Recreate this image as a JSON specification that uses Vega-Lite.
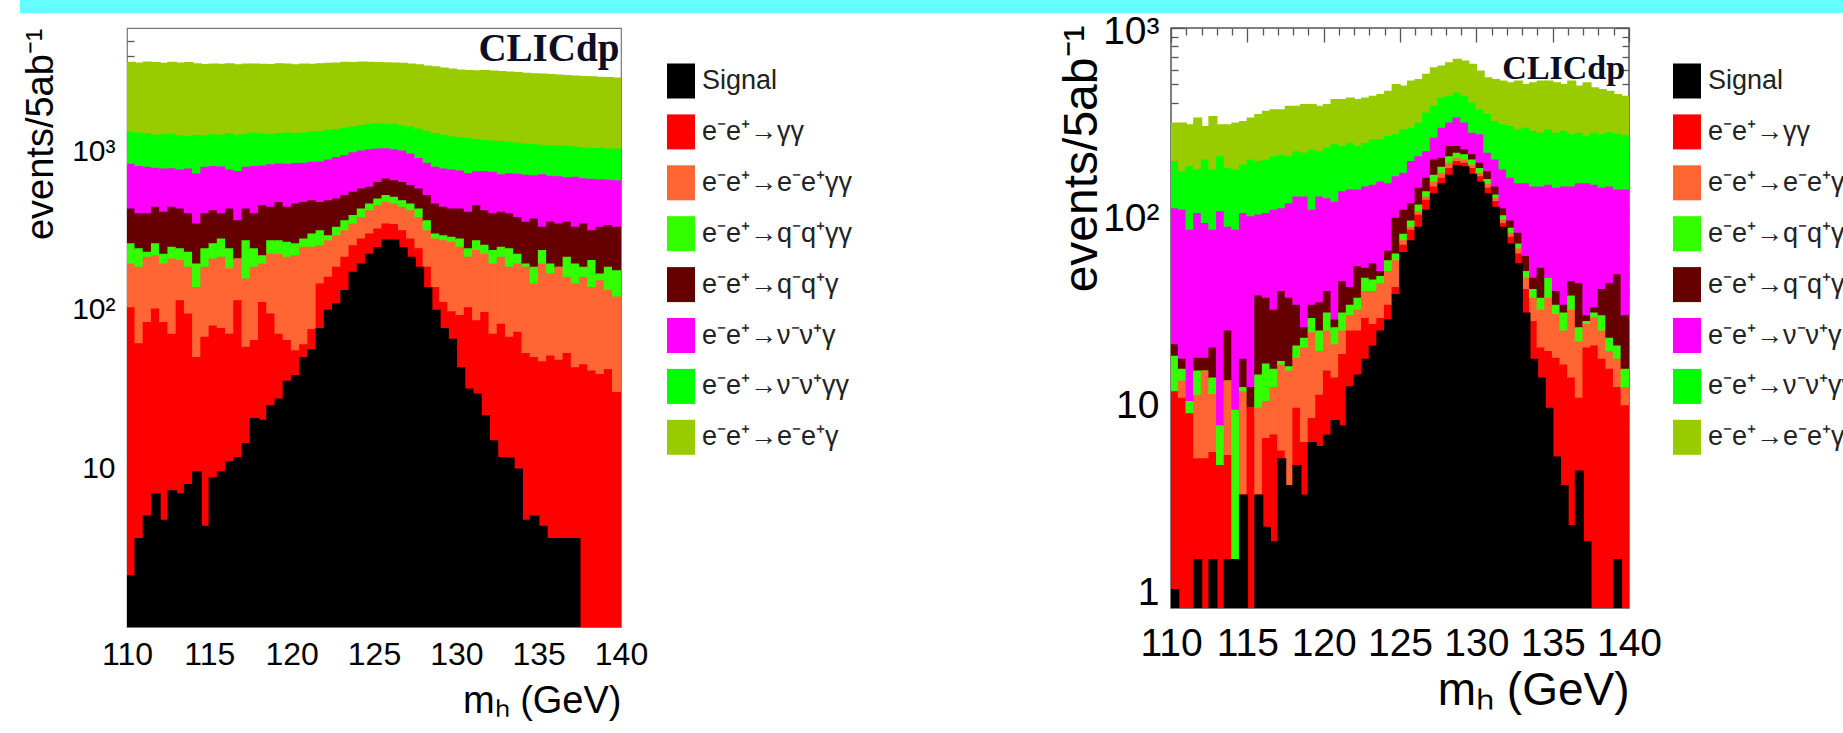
{
  "$schema": "https://vega.github.io/schema/vega-lite/v6.json",
  "background": "white",
  "padding": {"left": 20, "top": 0, "right": 0, "bottom": 0},
  "config": {
    "font": "Liberation Sans",
    "view": {"stroke": null},
    "axis": {"labelColor": "#000", "titleColor": "#000", "titleFontWeight": "normal", "domain": false, "ticks": false, "grid": false, "labelFlush": false, "labelOverlap": false, "labelFont": "Liberation Sans", "titleFont": "Liberation Sans", "tickColor": "#555", "tickWidth": 1.3}
  },
  "datasets": {
    "left": [
      {"m":110,"m2":110.5,"a_signal":2.1,"b_gg":103,"c_eegg":194,"d_qqgg":260,"e_qqg":432,"f_nng":825,"g_nngg":1310,"h_eeg":3630},
      {"m":110.5,"m2":111,"a_signal":3.6,"b_gg":61,"c_eegg":185,"d_qqgg":242,"e_qqg":402,"f_nng":800,"g_nngg":1300,"h_eeg":3600},
      {"m":111,"m2":111.5,"a_signal":5.0,"b_gg":83,"c_eegg":214,"d_qqgg":230,"e_qqg":402,"f_nng":790,"g_nngg":1290,"h_eeg":3650},
      {"m":111.5,"m2":112,"a_signal":6.9,"b_gg":101,"c_eegg":219,"d_qqgg":260,"e_qqg":442,"f_nng":780,"g_nngg":1260,"h_eeg":3620},
      {"m":112,"m2":112.5,"a_signal":4.7,"b_gg":83,"c_eegg":194,"d_qqgg":224,"e_qqg":411,"f_nng":770,"g_nngg":1270,"h_eeg":3580},
      {"m":112.5,"m2":113,"a_signal":7.2,"b_gg":70,"c_eegg":209,"d_qqgg":248,"e_qqg":442,"f_nng":775,"g_nngg":1280,"h_eeg":3640},
      {"m":113,"m2":113.5,"a_signal":6.9,"b_gg":114,"c_eegg":204,"d_qqgg":242,"e_qqg":432,"f_nng":760,"g_nngg":1250,"h_eeg":3600},
      {"m":113.5,"m2":114,"a_signal":7.9,"b_gg":94,"c_eegg":185,"d_qqgg":230,"e_qqg":402,"f_nng":770,"g_nngg":1240,"h_eeg":3620},
      {"m":114,"m2":114.5,"a_signal":9.5,"b_gg":50,"c_eegg":138,"d_qqgg":194,"e_qqg":347,"f_nng":716,"g_nngg":1260,"h_eeg":3560},
      {"m":114.5,"m2":115,"a_signal":4.3,"b_gg":67,"c_eegg":185,"d_qqgg":242,"e_qqg":402,"f_nng":790,"g_nngg":1250,"h_eeg":3520},
      {"m":115,"m2":115.5,"a_signal":8.7,"b_gg":79,"c_eegg":209,"d_qqgg":260,"e_qqg":421,"f_nng":800,"g_nngg":1270,"h_eeg":3550},
      {"m":115.5,"m2":116,"a_signal":9.5,"b_gg":76,"c_eegg":214,"d_qqgg":279,"e_qqg":402,"f_nng":795,"g_nngg":1260,"h_eeg":3530},
      {"m":116,"m2":116.5,"a_signal":11,"b_gg":70,"c_eegg":181,"d_qqgg":242,"e_qqg":432,"f_nng":760,"g_nngg":1290,"h_eeg":3560},
      {"m":116.5,"m2":117,"a_signal":11.7,"b_gg":114,"c_eegg":209,"d_qqgg":209,"e_qqg":364,"f_nng":745,"g_nngg":1260,"h_eeg":3510},
      {"m":117,"m2":117.5,"a_signal":14.3,"b_gg":58,"c_eegg":156,"d_qqgg":272,"e_qqg":432,"f_nng":790,"g_nngg":1280,"h_eeg":3540},
      {"m":117.5,"m2":118,"a_signal":20.6,"b_gg":64,"c_eegg":185,"d_qqgg":242,"e_qqg":402,"f_nng":800,"g_nngg":1300,"h_eeg":3550},
      {"m":118,"m2":118.5,"a_signal":20.1,"b_gg":111,"c_eegg":194,"d_qqgg":219,"e_qqg":453,"f_nng":805,"g_nngg":1280,"h_eeg":3530},
      {"m":118.5,"m2":119,"a_signal":24.8,"b_gg":94,"c_eegg":224,"d_qqgg":272,"e_qqg":442,"f_nng":820,"g_nngg":1270,"h_eeg":3520},
      {"m":119,"m2":119.5,"a_signal":27.3,"b_gg":70,"c_eegg":224,"d_qqgg":272,"e_qqg":475,"f_nng":830,"g_nngg":1290,"h_eeg":3560},
      {"m":119.5,"m2":120,"a_signal":35.3,"b_gg":64,"c_eegg":214,"d_qqgg":266,"e_qqg":442,"f_nng":825,"g_nngg":1300,"h_eeg":3540},
      {"m":120,"m2":120.5,"a_signal":38.4,"b_gg":55,"c_eegg":219,"d_qqgg":260,"e_qqg":464,"f_nng":835,"g_nngg":1290,"h_eeg":3510},
      {"m":120.5,"m2":121,"a_signal":50,"b_gg":60,"c_eegg":248,"d_qqgg":279,"e_qqg":475,"f_nng":840,"g_nngg":1300,"h_eeg":3550},
      {"m":121,"m2":121.5,"a_signal":56,"b_gg":75,"c_eegg":248,"d_qqgg":300,"e_qqg":487,"f_nng":850,"g_nngg":1320,"h_eeg":3530},
      {"m":121.5,"m2":122,"a_signal":76,"b_gg":145,"c_eegg":253,"d_qqgg":315,"e_qqg":475,"f_nng":855,"g_nngg":1330,"h_eeg":3560},
      {"m":122,"m2":122.5,"a_signal":99,"b_gg":160,"c_eegg":272,"d_qqgg":293,"e_qqg":487,"f_nng":880,"g_nngg":1350,"h_eeg":3580},
      {"m":122.5,"m2":123,"a_signal":109,"b_gg":185,"c_eegg":293,"d_qqgg":331,"e_qqg":499,"f_nng":910,"g_nngg":1370,"h_eeg":3600},
      {"m":123,"m2":123.5,"a_signal":132,"b_gg":214,"c_eegg":315,"d_qqgg":364,"e_qqg":524,"f_nng":940,"g_nngg":1400,"h_eeg":3630},
      {"m":123.5,"m2":124,"a_signal":172,"b_gg":253,"c_eegg":347,"d_qqgg":392,"e_qqg":550,"f_nng":975,"g_nngg":1420,"h_eeg":3620},
      {"m":124,"m2":124.5,"a_signal":194,"b_gg":279,"c_eegg":382,"d_qqgg":432,"e_qqg":577,"f_nng":1000,"g_nngg":1450,"h_eeg":3650},
      {"m":124.5,"m2":125,"a_signal":224,"b_gg":300,"c_eegg":421,"d_qqgg":464,"e_qqg":591,"f_nng":1020,"g_nngg":1470,"h_eeg":3640},
      {"m":125,"m2":125.5,"a_signal":247,"b_gg":323,"c_eegg":453,"d_qqgg":499,"e_qqg":635,"f_nng":1030,"g_nngg":1490,"h_eeg":3620},
      {"m":125.5,"m2":126,"a_signal":275,"b_gg":347,"c_eegg":475,"d_qqgg":524,"e_qqg":668,"f_nng":1035,"g_nngg":1480,"h_eeg":3610},
      {"m":126,"m2":126.5,"a_signal":275,"b_gg":345,"c_eegg":464,"d_qqgg":512,"e_qqg":651,"f_nng":1020,"g_nngg":1470,"h_eeg":3600},
      {"m":126.5,"m2":127,"a_signal":247,"b_gg":315,"c_eegg":442,"d_qqgg":487,"e_qqg":635,"f_nng":1000,"g_nngg":1440,"h_eeg":3580},
      {"m":127,"m2":127.5,"a_signal":214,"b_gg":279,"c_eegg":421,"d_qqgg":464,"e_qqg":606,"f_nng":960,"g_nngg":1420,"h_eeg":3540},
      {"m":127.5,"m2":128,"a_signal":185,"b_gg":242,"c_eegg":382,"d_qqgg":432,"e_qqg":577,"f_nng":900,"g_nngg":1380,"h_eeg":3500},
      {"m":128,"m2":128.5,"a_signal":138,"b_gg":185,"c_eegg":315,"d_qqgg":364,"e_qqg":524,"f_nng":840,"g_nngg":1330,"h_eeg":3440},
      {"m":128.5,"m2":129,"a_signal":99,"b_gg":138,"c_eegg":279,"d_qqgg":300,"e_qqg":464,"f_nng":790,"g_nngg":1290,"h_eeg":3400},
      {"m":129,"m2":129.5,"a_signal":76,"b_gg":111,"c_eegg":272,"d_qqgg":293,"e_qqg":442,"f_nng":770,"g_nngg":1260,"h_eeg":3350},
      {"m":129.5,"m2":130,"a_signal":65,"b_gg":97,"c_eegg":266,"d_qqgg":286,"e_qqg":432,"f_nng":760,"g_nngg":1230,"h_eeg":3300},
      {"m":130,"m2":130.5,"a_signal":43,"b_gg":92,"c_eegg":248,"d_qqgg":279,"e_qqg":432,"f_nng":750,"g_nngg":1220,"h_eeg":3250},
      {"m":130.5,"m2":131,"a_signal":31.6,"b_gg":103,"c_eegg":214,"d_qqgg":242,"e_qqg":411,"f_nng":720,"g_nngg":1200,"h_eeg":3230},
      {"m":131,"m2":131.5,"a_signal":29.4,"b_gg":85,"c_eegg":236,"d_qqgg":272,"e_qqg":453,"f_nng":740,"g_nngg":1180,"h_eeg":3210},
      {"m":131.5,"m2":132,"a_signal":21.4,"b_gg":96,"c_eegg":224,"d_qqgg":255,"e_qqg":421,"f_nng":745,"g_nngg":1170,"h_eeg":3220},
      {"m":132,"m2":132.5,"a_signal":14.9,"b_gg":70,"c_eegg":194,"d_qqgg":236,"e_qqg":402,"f_nng":735,"g_nngg":1160,"h_eeg":3200},
      {"m":132.5,"m2":133,"a_signal":11.7,"b_gg":81,"c_eegg":214,"d_qqgg":248,"e_qqg":411,"f_nng":710,"g_nngg":1150,"h_eeg":3180},
      {"m":133,"m2":133.5,"a_signal":11.6,"b_gg":67,"c_eegg":185,"d_qqgg":242,"e_qqg":402,"f_nng":720,"g_nngg":1140,"h_eeg":3150},
      {"m":133.5,"m2":134,"a_signal":9.9,"b_gg":72,"c_eegg":194,"d_qqgg":224,"e_qqg":382,"f_nng":715,"g_nngg":1120,"h_eeg":3130},
      {"m":134,"m2":134.5,"a_signal":4.7,"b_gg":53,"c_eegg":185,"d_qqgg":194,"e_qqg":356,"f_nng":705,"g_nngg":1110,"h_eeg":3100},
      {"m":134.5,"m2":135,"a_signal":5.0,"b_gg":50,"c_eegg":145,"d_qqgg":185,"e_qqg":373,"f_nng":700,"g_nngg":1100,"h_eeg":3080},
      {"m":135,"m2":135.5,"a_signal":4.3,"b_gg":47,"c_eegg":194,"d_qqgg":236,"e_qqg":331,"f_nng":710,"g_nngg":1090,"h_eeg":3060},
      {"m":135.5,"m2":136,"a_signal":3.6,"b_gg":51,"c_eegg":168,"d_qqgg":194,"e_qqg":356,"f_nng":695,"g_nngg":1080,"h_eeg":3040},
      {"m":136,"m2":136.5,"a_signal":3.6,"b_gg":48,"c_eegg":185,"d_qqgg":185,"e_qqg":347,"f_nng":690,"g_nngg":1080,"h_eeg":3020},
      {"m":136.5,"m2":137,"a_signal":3.6,"b_gg":53,"c_eegg":160,"d_qqgg":214,"e_qqg":356,"f_nng":680,"g_nngg":1070,"h_eeg":3000},
      {"m":137,"m2":137.5,"a_signal":3.6,"b_gg":43,"c_eegg":145,"d_qqgg":194,"e_qqg":331,"f_nng":685,"g_nngg":1060,"h_eeg":2980},
      {"m":137.5,"m2":138,"a_signal":0,"b_gg":45,"c_eegg":160,"d_qqgg":185,"e_qqg":347,"f_nng":670,"g_nngg":1050,"h_eeg":2960},
      {"m":138,"m2":138.5,"a_signal":0,"b_gg":41,"c_eegg":138,"d_qqgg":204,"e_qqg":315,"f_nng":665,"g_nngg":1040,"h_eeg":2950},
      {"m":138.5,"m2":139,"a_signal":0,"b_gg":39,"c_eegg":152,"d_qqgg":168,"e_qqg":331,"f_nng":660,"g_nngg":1040,"h_eeg":2920},
      {"m":139,"m2":139.5,"a_signal":0,"b_gg":42,"c_eegg":132,"d_qqgg":185,"e_qqg":339,"f_nng":655,"g_nngg":1030,"h_eeg":2910},
      {"m":139.5,"m2":140,"a_signal":0,"b_gg":30,"c_eegg":120,"d_qqgg":176,"e_qqg":331,"f_nng":650,"g_nngg":1030,"h_eeg":2890}
    ],
    "right": [
      {"m":110,"m2":110.5,"a_signal":1.0,"b_gg":11.4,"c_eegg":11.4,"d_qqgg":17.6,"e_qqg":20.3,"f_nng":108,"g_nngg":193,"h_eeg":310},
      {"m":110.5,"m2":111,"a_signal":0,"b_gg":10.5,"c_eegg":13,"d_qqgg":15,"e_qqg":17,"f_nng":106,"g_nngg":170,"h_eeg":310},
      {"m":111,"m2":111.5,"a_signal":0,"b_gg":8.7,"c_eegg":8.7,"d_qqgg":10.1,"e_qqg":10.1,"f_nng":83,"g_nngg":181,"h_eeg":303},
      {"m":111.5,"m2":112,"a_signal":1.45,"b_gg":5.0,"c_eegg":10.9,"d_qqgg":14.7,"e_qqg":17.2,"f_nng":102,"g_nngg":174,"h_eeg":330},
      {"m":112,"m2":112.5,"a_signal":0,"b_gg":5.0,"c_eegg":14.7,"d_qqgg":14.7,"e_qqg":17.2,"f_nng":90,"g_nngg":197,"h_eeg":297},
      {"m":112.5,"m2":113,"a_signal":1.45,"b_gg":5.4,"c_eegg":11,"d_qqgg":13.5,"e_qqg":19.5,"f_nng":83,"g_nngg":174,"h_eeg":336},
      {"m":113,"m2":113.5,"a_signal":0,"b_gg":4.6,"c_eegg":4.6,"d_qqgg":7.5,"e_qqg":7.5,"f_nng":104,"g_nngg":205,"h_eeg":303},
      {"m":113.5,"m2":114,"a_signal":1.45,"b_gg":5.2,"c_eegg":13,"d_qqgg":13,"e_qqg":24,"f_nng":86,"g_nngg":177,"h_eeg":303},
      {"m":114,"m2":114.5,"a_signal":1.45,"b_gg":1.45,"c_eegg":1.45,"d_qqgg":9.1,"e_qqg":9.1,"f_nng":83,"g_nngg":174,"h_eeg":310},
      {"m":114.5,"m2":115,"a_signal":3.2,"b_gg":3.2,"c_eegg":11.4,"d_qqgg":12,"e_qqg":17,"f_nng":102,"g_nngg":185,"h_eeg":316},
      {"m":115,"m2":115.5,"a_signal":0,"b_gg":9.3,"c_eegg":9.3,"d_qqgg":9.3,"e_qqg":12,"f_nng":98,"g_nngg":197,"h_eeg":330},
      {"m":115.5,"m2":116,"a_signal":3.2,"b_gg":3.2,"c_eegg":9.3,"d_qqgg":14,"e_qqg":37,"f_nng":100,"g_nngg":193,"h_eeg":344},
      {"m":116,"m2":116.5,"a_signal":2.15,"b_gg":6.4,"c_eegg":10.1,"d_qqgg":16,"e_qqg":36,"f_nng":102,"g_nngg":197,"h_eeg":358},
      {"m":116.5,"m2":117,"a_signal":1.8,"b_gg":6.7,"c_eegg":12,"d_qqgg":15,"e_qqg":31,"f_nng":106,"g_nngg":205,"h_eeg":365},
      {"m":117,"m2":117.5,"a_signal":5.0,"b_gg":5.5,"c_eegg":15.8,"d_qqgg":16.5,"e_qqg":39,"f_nng":108,"g_nngg":209,"h_eeg":365},
      {"m":117.5,"m2":118,"a_signal":3.6,"b_gg":3.6,"c_eegg":14.7,"d_qqgg":15.5,"e_qqg":36,"f_nng":115,"g_nngg":205,"h_eeg":381},
      {"m":118,"m2":118.5,"a_signal":4.6,"b_gg":9.3,"c_eegg":17.2,"d_qqgg":20,"e_qqg":33,"f_nng":125,"g_nngg":218,"h_eeg":381},
      {"m":118.5,"m2":119,"a_signal":3.2,"b_gg":6.1,"c_eegg":19.5,"d_qqgg":22,"e_qqg":25,"f_nng":125,"g_nngg":214,"h_eeg":389},
      {"m":119,"m2":119.5,"a_signal":6.1,"b_gg":8.2,"c_eegg":23.5,"d_qqgg":28,"e_qqg":33,"f_nng":106,"g_nngg":223,"h_eeg":389},
      {"m":119.5,"m2":120,"a_signal":5.8,"b_gg":10.9,"c_eegg":18.7,"d_qqgg":24,"e_qqg":34,"f_nng":125,"g_nngg":218,"h_eeg":381},
      {"m":120,"m2":120.5,"a_signal":6.7,"b_gg":14.7,"c_eegg":24,"d_qqgg":30,"e_qqg":39,"f_nng":122,"g_nngg":227,"h_eeg":389},
      {"m":120.5,"m2":121,"a_signal":8.0,"b_gg":13.5,"c_eegg":20.3,"d_qqgg":25,"e_qqg":27.5,"f_nng":117,"g_nngg":237,"h_eeg":414},
      {"m":121,"m2":121.5,"a_signal":7.5,"b_gg":18,"c_eegg":24,"d_qqgg":30,"e_qqg":44,"f_nng":133,"g_nngg":232,"h_eeg":414},
      {"m":121.5,"m2":122,"a_signal":12.1,"b_gg":24,"c_eegg":29,"d_qqgg":33,"e_qqg":41,"f_nng":136,"g_nngg":242,"h_eeg":422},
      {"m":122,"m2":122.5,"a_signal":14,"b_gg":24,"c_eegg":31,"d_qqgg":36,"e_qqg":53,"f_nng":136,"g_nngg":232,"h_eeg":414},
      {"m":122.5,"m2":123,"a_signal":17,"b_gg":28,"c_eegg":39,"d_qqgg":46,"e_qqg":52,"f_nng":141,"g_nngg":242,"h_eeg":422},
      {"m":123,"m2":123.5,"a_signal":20,"b_gg":26,"c_eegg":39,"d_qqgg":45,"e_qqg":55,"f_nng":144,"g_nngg":252,"h_eeg":431},
      {"m":123.5,"m2":124,"a_signal":24,"b_gg":28,"c_eegg":43,"d_qqgg":47,"e_qqg":50,"f_nng":150,"g_nngg":252,"h_eeg":440},
      {"m":124,"m2":124.5,"a_signal":27.6,"b_gg":33,"c_eegg":50,"d_qqgg":57,"e_qqg":64,"f_nng":147,"g_nngg":263,"h_eeg":458},
      {"m":124.5,"m2":125,"a_signal":37.7,"b_gg":41,"c_eegg":57,"d_qqgg":62,"e_qqg":96,"f_nng":160,"g_nngg":268,"h_eeg":498},
      {"m":125,"m2":125.5,"a_signal":63,"b_gg":69,"c_eegg":73,"d_qqgg":79,"e_qqg":106,"f_nng":167,"g_nngg":285,"h_eeg":488},
      {"m":125.5,"m2":126,"a_signal":73,"b_gg":83,"c_eegg":86,"d_qqgg":93,"e_qqg":115,"f_nng":193,"g_nngg":291,"h_eeg":519},
      {"m":126,"m2":126.5,"a_signal":86,"b_gg":99.6,"c_eegg":104,"d_qqgg":113,"e_qqg":139,"f_nng":205,"g_nngg":310,"h_eeg":530},
      {"m":126.5,"m2":127,"a_signal":106,"b_gg":120,"c_eegg":125,"d_qqgg":133,"e_qqg":157,"f_nng":218,"g_nngg":351,"h_eeg":564},
      {"m":127,"m2":127.5,"a_signal":130,"b_gg":141,"c_eegg":150,"d_qqgg":163,"e_qqg":197,"f_nng":257,"g_nngg":381,"h_eeg":612},
      {"m":127.5,"m2":128,"a_signal":147,"b_gg":157,"c_eegg":167,"d_qqgg":180,"e_qqg":201,"f_nng":291,"g_nngg":422,"h_eeg":625},
      {"m":128,"m2":128.5,"a_signal":163,"b_gg":177,"c_eegg":189,"d_qqgg":205,"e_qqg":232,"f_nng":310,"g_nngg":431,"h_eeg":651},
      {"m":128.5,"m2":129,"a_signal":184,"b_gg":193,"c_eegg":201,"d_qqgg":214,"e_qqg":232,"f_nng":330,"g_nngg":449,"h_eeg":679},
      {"m":129,"m2":129.5,"a_signal":181,"b_gg":189,"c_eegg":197,"d_qqgg":210,"e_qqg":223,"f_nng":310,"g_nngg":431,"h_eeg":665},
      {"m":129.5,"m2":130,"a_signal":165,"b_gg":177,"c_eegg":185,"d_qqgg":197,"e_qqg":210,"f_nng":273,"g_nngg":397,"h_eeg":638},
      {"m":130,"m2":130.5,"a_signal":150,"b_gg":160,"c_eegg":167,"d_qqgg":177,"e_qqg":189,"f_nng":268,"g_nngg":365,"h_eeg":587},
      {"m":130.5,"m2":131,"a_signal":130,"b_gg":139,"c_eegg":146,"d_qqgg":155,"e_qqg":170,"f_nng":214,"g_nngg":344,"h_eeg":541},
      {"m":131,"m2":131.5,"a_signal":110,"b_gg":118,"c_eegg":123,"d_qqgg":128,"e_qqg":141,"f_nng":197,"g_nngg":316,"h_eeg":530},
      {"m":131.5,"m2":132,"a_signal":86,"b_gg":90,"c_eegg":94,"d_qqgg":99,"e_qqg":108,"f_nng":174,"g_nngg":303,"h_eeg":519},
      {"m":132,"m2":132.5,"a_signal":70,"b_gg":76,"c_eegg":80,"d_qqgg":85,"e_qqg":93,"f_nng":157,"g_nngg":297,"h_eeg":508},
      {"m":132.5,"m2":133,"a_signal":55,"b_gg":62,"c_eegg":66,"d_qqgg":70,"e_qqg":80,"f_nng":147,"g_nngg":285,"h_eeg":519},
      {"m":133,"m2":133.5,"a_signal":30,"b_gg":40,"c_eegg":46,"d_qqgg":50,"e_qqg":60,"f_nng":147,"g_nngg":291,"h_eeg":498},
      {"m":133.5,"m2":134,"a_signal":17,"b_gg":27,"c_eegg":36,"d_qqgg":40,"e_qqg":46,"f_nng":141,"g_nngg":280,"h_eeg":508},
      {"m":134,"m2":134.5,"a_signal":13.5,"b_gg":19.5,"c_eegg":31,"d_qqgg":36,"e_qqg":52,"f_nng":141,"g_nngg":273,"h_eeg":519},
      {"m":134.5,"m2":135,"a_signal":9.3,"b_gg":18.7,"c_eegg":36,"d_qqgg":46,"e_qqg":46,"f_nng":144,"g_nngg":285,"h_eeg":519},
      {"m":135,"m2":135.5,"a_signal":5.1,"b_gg":17.2,"c_eegg":29.4,"d_qqgg":33,"e_qqg":39,"f_nng":139,"g_nngg":273,"h_eeg":508},
      {"m":135.5,"m2":136,"a_signal":3.6,"b_gg":15.8,"c_eegg":24,"d_qqgg":30,"e_qqg":33,"f_nng":141,"g_nngg":280,"h_eeg":498},
      {"m":136,"m2":136.5,"a_signal":2.2,"b_gg":13.5,"c_eegg":31,"d_qqgg":37,"e_qqg":44,"f_nng":141,"g_nngg":268,"h_eeg":519},
      {"m":136.5,"m2":137,"a_signal":4.3,"b_gg":10.5,"c_eegg":21,"d_qqgg":25,"e_qqg":43,"f_nng":147,"g_nngg":273,"h_eeg":488},
      {"m":137,"m2":137.5,"a_signal":1.8,"b_gg":19.5,"c_eegg":26,"d_qqgg":27,"e_qqg":29,"f_nng":147,"g_nngg":263,"h_eeg":508},
      {"m":137.5,"m2":138,"a_signal":0,"b_gg":20,"c_eegg":28.3,"d_qqgg":30,"e_qqg":32,"f_nng":144,"g_nngg":273,"h_eeg":478},
      {"m":138,"m2":138.5,"a_signal":0,"b_gg":17,"c_eegg":24,"d_qqgg":29,"e_qqg":40,"f_nng":139,"g_nngg":268,"h_eeg":468},
      {"m":138.5,"m2":139,"a_signal":0,"b_gg":15,"c_eegg":18.7,"d_qqgg":22,"e_qqg":43,"f_nng":141,"g_nngg":275,"h_eeg":458},
      {"m":139,"m2":139.5,"a_signal":1.45,"b_gg":12,"c_eegg":17,"d_qqgg":20,"e_qqg":48,"f_nng":136,"g_nngg":270,"h_eeg":440},
      {"m":139.5,"m2":140,"a_signal":0,"b_gg":9.6,"c_eegg":12,"d_qqgg":15,"e_qqg":29,"f_nng":136,"g_nngg":265,"h_eeg":431}
    ]
  },
  "columns": 1,
  "spacing": -2,
  "concat": [
    {
      "width": 1716,
      "height": 13,
      "view": {"fill": "#66ffff", "stroke": null},
      "data": {"values": [{"c": 0}, {"c": 1}]},
      "mark": {"type": "text", "text": ""},
      "encoding": {
        "color": {"field": "c", "type": "quantitative", "scale": {"range": ["#66ffff", "#66ffff"]},
                  "legend": {"orient": "none", "legendX": -107, "legendY": 0, "direction": "horizontal", "gradientLength": 112, "gradientThickness": 13, "labelExpr": "''", "labelOpacity": 0, "labelFontSize": 1, "title": null, "padding": 0, "gradientStrokeWidth": 0, "gradientStrokeColor": "#66ffff"}}
      }
    },
    {
      "spacing": 203,
      "resolve": {"scale": {"x": "independent", "y": "independent", "color": "independent", "stroke": "independent"}, "legend": {"color": "independent"}},
      "hconcat": [
        {
          "width": 494,
          "height": 599,
          "view": {"stroke": "#777", "strokeWidth": 1.2},
          "resolve": {"axis": {"x": "independent", "y": "independent"}},
          "layer": [
            {
              "data": {"name": "left"},
              "transform": [
                {"fold": ["h_eeg", "g_nngg", "f_nng", "e_qqg", "d_qqgg", "c_eegg", "b_gg", "a_signal"], "as": ["proc", "top"]},
                {"window": [{"op": "lag", "field": "top", "as": "lo"}], "groupby": ["m"], "sort": [{"field": "top", "order": "ascending"}, {"field": "proc", "order": "ascending"}]},
                {"filter": "datum.proc !== 'a_signal'"}
              ],
              "mark": {"type": "rect", "clip": true, "strokeWidth": 1.5},
              "encoding": {
                "x": {"field": "m", "type": "quantitative", "scale": {"domain": [110, 140], "nice": false, "zero": false},
                      "axis": {"values": [110, 115, 120, 125, 130, 135, 140], "labelFontSize": 32, "labelPadding": 12, "title": "mₕ (GeV)", "titleFontSize": 38, "titleAnchor": "end", "titlePadding": 12}},
                "x2": {"field": "m2"},
                "y": {"field": "top", "type": "quantitative", "scale": {"type": "log", "domain": [1, 6000], "nice": false, "clamp": true},
                      "axis": {"values": [10, 100, 1000], "labelExpr": "datum.value >= 999 ? '10³' : datum.value >= 99 ? '10²' : datum.value >= 9 ? '10' : '1'", "labelFontSize": 30, "labelPadding": 12, "title": "events/5ab⁻¹", "titleFontSize": 38, "titleAnchor": "end", "titlePadding": 11}},
                "y2": {"field": "lo"},
                "color": {"field": "proc", "type": "nominal",
                          "scale": {"domain": ["a_signal", "b_gg", "c_eegg", "d_qqgg", "e_qqg", "f_nng", "g_nngg", "h_eeg"], "range": ["#000000", "#ff0000", "#ff6633", "#33ff00", "#660000", "#ff00ff", "#00ff00", "#99cc00"]},
                          "legend": {"orient": "none", "legendX": 536.5, "legendY": 35.5, "title": null, "symbolType": "M-0.8,-1H0.8V1H-0.8Z", "symbolSize": 1225, "symbolStrokeWidth": 0, "labelFontSize": 27, "labelColor": "#222", "labelOffset": 3.5, "rowPadding": 15.9, "padding": 0, "labelLimit": 400,
                                     "labelExpr": "({'a_signal':'Signal','b_gg':'e⁻e⁺→γγ','c_eegg':'e⁻e⁺→e⁻e⁺γγ','d_qqgg':'e⁻e⁺→q⁻q⁺γγ','e_qqg':'e⁻e⁺→q⁻q⁺γ','f_nng':'e⁻e⁺→ν⁻ν⁺γ','g_nngg':'e⁻e⁺→ν⁻ν⁺γγ','h_eeg':'e⁻e⁺→e⁻e⁺γ'})[datum.value]"}},
                "stroke": {"field": "proc", "type": "nominal",
                           "scale": {"domain": ["a_signal", "b_gg", "c_eegg", "d_qqgg", "e_qqg", "f_nng", "g_nngg", "h_eeg"], "range": ["#000000", "#ff0000", "#ff6633", "#33ff00", "#660000", "#ff00ff", "#00ff00", "#99cc00"]},
                           "legend": null}
              }
            },
            {
              "data": {"name": "left"},
              "transform": [
                {"fold": ["a_signal"], "as": ["proc", "top"]},
                {"filter": "datum.top > 0"}
              ],
              "mark": {"type": "rect", "clip": true, "strokeWidth": 1.5},
              "encoding": {
                "x": {"field": "m", "type": "quantitative", "axis": null},
                "x2": {"field": "m2"},
                "y": {"field": "top", "type": "quantitative", "axis": null},
                "y2": {"datum": 1},
                "color": {"field": "proc", "type": "nominal"},
                "stroke": {"field": "proc", "type": "nominal", "legend": null}
              }
            },
            {
              "data": {"values": [{"m": 139.9, "v": 3700, "t": "CLICdp"}]},
              "mark": {"type": "text", "align": "right", "baseline": "alphabetic", "font": "Liberation Serif", "fontWeight": "bold", "fontSize": 39, "color": "#0d0d26"},
              "encoding": {
                "x": {"field": "m", "type": "quantitative", "axis": null},
                "y": {"field": "v", "type": "quantitative",
                      "axis": {"orient": "left", "values": [2,3,4,5,6,7,8,9,10,20,30,40,50,60,70,80,90,100,200,300,400,500,600,700,800,900,1000,2000,3000,4000,5000], "labels": false, "ticks": true, "tickSize": -7, "title": null}},
                "text": {"field": "t"}
              }
            }
          ]
        },
        {
          "width": 458,
          "height": 580,
          "view": {"stroke": "#555", "strokeWidth": 1.5},
          "resolve": {"axis": {"x": "independent", "y": "independent"}},
          "layer": [
            {
              "data": {"name": "right"},
              "transform": [
                {"fold": ["h_eeg", "g_nngg", "f_nng", "e_qqg", "d_qqgg", "c_eegg", "b_gg", "a_signal"], "as": ["proc", "top"]},
                {"window": [{"op": "lag", "field": "top", "as": "lo"}], "groupby": ["m"], "sort": [{"field": "top", "order": "ascending"}, {"field": "proc", "order": "ascending"}]},
                {"filter": "datum.proc !== 'a_signal'"}
              ],
              "mark": {"type": "rect", "clip": true, "strokeWidth": 1.5},
              "encoding": {
                "x": {"field": "m", "type": "quantitative", "scale": {"domain": [110, 140], "nice": false, "zero": false},
                      "axis": {"values": [110, 115, 120, 125, 130, 135, 140], "labelFontSize": 39, "labelPadding": 16, "title": "mₕ (GeV)", "titleFontSize": 46, "titleAnchor": "end", "titlePadding": 5}},
                "x2": {"field": "m2"},
                "y": {"field": "top", "type": "quantitative", "scale": {"type": "log", "domain": [0.8, 1000], "nice": false, "clamp": true},
                      "axis": {"values": [1, 10, 100, 1000], "labelExpr": "datum.value >= 999 ? '10³' : datum.value >= 99 ? '10²' : datum.value >= 9 ? '10' : '1'", "labelFontSize": 39, "labelPadding": 12, "labelOffset": 3, "title": "events/5ab⁻¹", "titleFontSize": 48, "titleAnchor": "end", "titlePadding": -4, "titleY": -3}},
                "y2": {"field": "lo"},
                "color": {"field": "proc", "type": "nominal",
                          "scale": {"domain": ["a_signal", "b_gg", "c_eegg", "d_qqgg", "e_qqg", "f_nng", "g_nngg", "h_eeg"], "range": ["#000000", "#ff0000", "#ff6633", "#33ff00", "#660000", "#ff00ff", "#00ff00", "#99cc00"]},
                          "legend": {"orient": "none", "legendX": 498.5, "legendY": 35.5, "title": null, "symbolType": "M-0.8,-1H0.8V1H-0.8Z", "symbolSize": 1225, "symbolStrokeWidth": 0, "labelFontSize": 27, "labelColor": "#222", "labelOffset": 3.5, "rowPadding": 15.9, "padding": 0, "labelLimit": 400,
                                     "labelExpr": "({'a_signal':'Signal','b_gg':'e⁻e⁺→γγ','c_eegg':'e⁻e⁺→e⁻e⁺γγ','d_qqgg':'e⁻e⁺→q⁻q⁺γγ','e_qqg':'e⁻e⁺→q⁻q⁺γ','f_nng':'e⁻e⁺→ν⁻ν⁺γ','g_nngg':'e⁻e⁺→ν⁻ν⁺γγ','h_eeg':'e⁻e⁺→e⁻e⁺γ'})[datum.value]"}},
                "stroke": {"field": "proc", "type": "nominal",
                           "scale": {"domain": ["a_signal", "b_gg", "c_eegg", "d_qqgg", "e_qqg", "f_nng", "g_nngg", "h_eeg"], "range": ["#000000", "#ff0000", "#ff6633", "#33ff00", "#660000", "#ff00ff", "#00ff00", "#99cc00"]},
                           "legend": null}
              }
            },
            {
              "data": {"name": "right"},
              "transform": [
                {"fold": ["a_signal"], "as": ["proc", "top"]},
                {"filter": "datum.top > 0"}
              ],
              "mark": {"type": "rect", "clip": true, "strokeWidth": 1.5},
              "encoding": {
                "x": {"field": "m", "type": "quantitative", "axis": null},
                "x2": {"field": "m2"},
                "y": {"field": "top", "type": "quantitative", "axis": null},
                "y2": {"datum": 0.8},
                "color": {"field": "proc", "type": "nominal"},
                "stroke": {"field": "proc", "type": "nominal", "legend": null}
              }
            },
            {
              "data": {"values": [{"m": 139.75, "v": 534, "t": "CLICdp"}]},
              "mark": {"type": "text", "align": "right", "baseline": "alphabetic", "font": "Liberation Serif", "fontWeight": "bold", "fontSize": 34, "color": "#0d0d26"},
              "encoding": {
                "x": {"field": "m", "type": "quantitative",
                      "axis": {"orient": "top", "values": [110,111,112,113,114,115,116,117,118,119,120,121,122,123,124,125,126,127,128,129,130,131,132,133,134,135,136,137,138,139,140], "labels": false, "ticks": true, "tickSize": {"condition": {"test": "datum.value % 5 === 0", "value": -14}, "value": -7}, "title": null}},
                "y": {"field": "v", "type": "quantitative",
                      "axis": {"orient": "right", "values": [1,2,3,4,5,6,7,8,9,10,20,30,40,50,60,70,80,90,100,200,300,400,500,600,700,800,900,1000], "labels": false, "ticks": true, "tickSize": {"condition": {"test": "datum.value === 1 || datum.value === 10 || datum.value === 100 || datum.value === 1000", "value": -14}, "value": -7}, "title": null}},
                "text": {"field": "t"}
              }
            },
            {
              "data": {"values": [{"m": 139.75, "v": 534, "t": ""}]},
              "mark": {"type": "text"},
              "encoding": {
                "x": {"field": "m", "type": "quantitative", "axis": null},
                "y": {"field": "v", "type": "quantitative",
                      "axis": {"orient": "left", "values": [2,3,4,5,6,7,8,9,10,20,30,40,50,60,70,80,90,100,200,300,400,500,600,700,800,900,1000], "labels": false, "ticks": true, "tickSize": {"condition": {"test": "datum.value === 10 || datum.value === 100 || datum.value === 1000", "value": -14}, "value": -7}, "title": null}},
                "text": {"field": "t"}
              }
            }
          ]
        }
      ]
    }
  ]
}
